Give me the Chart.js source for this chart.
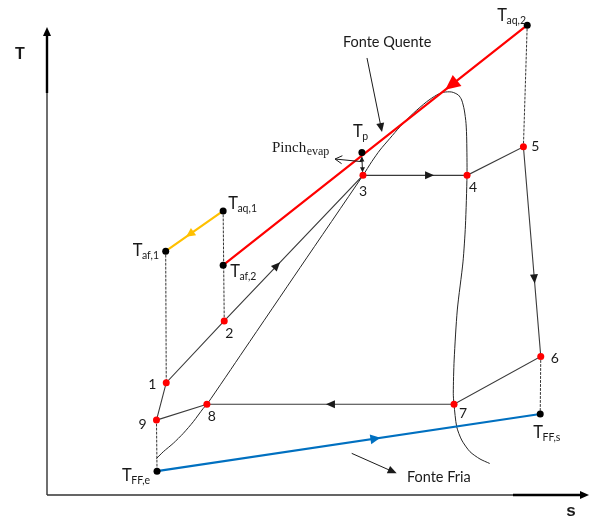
<!DOCTYPE html>
<html>
<head>
<meta charset="utf-8">
<script src="https://cdn.jsdelivr.net/npm/chart.js@4.4.1/dist/chart.umd.min.js"></script>
<style>
  html, body { margin: 0; padding: 0; background: #fff; }
  canvas { display: block; }
</style>
</head>
<body>
<canvas id="ts" width="595" height="521"></canvas>
<script>
// T-s diagram, values (s and T in arbitrary 0..100 units).
const stateNames = ['1', '2', '3', '4', '5', '6', '7', '8', '9'];
const stateS = [22.0, 32.7, 58.3, 77.5, 87.9, 91.1, 75.1, 29.5, 20.2];
const stateT = [24.0, 37.2, 68.3, 68.3, 74.4, 29.6, 19.4, 19.4, 16.0];
const cycleOrder = ['9', '1', '2', '3', '4', '5', '6', '7', '8', '9'];

// stream end points (hot source, hot source after preheat, cold source, pinch)
const streamNames = ['aq,2', 'af,2', 'aq,1', 'af,1', 'FF,e', 'FF,s', 'p'];
const streamS = [88.6, 32.5, 32.5, 21.9, 20.3, 91.0, 58.1];
const streamT = [100.4, 49.1, 60.7, 52.1, 5.1, 17.3, 73.2];

// saturation dome, left branch bottom -> top -> right branch bottom
const domeS = [20.24, 21.46, 23.30, 25.15, 26.99, 28.84, 29.52, 36.35, 46.70, 58.30, 59.91, 61.44, 63.28, 65.13, 67.58, 70.06, 71.90, 73.12, 74.67, 75.89, 76.51, 76.99, 77.31, 77.44, 77.49, 77.20, 76.75, 75.70, 75.12, 74.96, 75.09, 75.59, 76.51, 78.04, 79.89, 81.61];
const domeT = [7.84, 9.25, 11.05, 13.18, 15.66, 18.53, 19.38, 30.98, 48.60, 68.30, 71.22, 73.72, 76.22, 78.70, 81.56, 84.04, 85.47, 86.05, 86.11, 85.47, 84.40, 82.26, 79.42, 75.85, 68.30, 57.50, 49.80, 39.53, 28.85, 21.73, 19.38, 14.59, 11.75, 9.25, 7.69, 6.77];

// vertical dotted guides between points
const dropPairs = [['aq,2', '5'], ['aq,1', '2'], ['af,1', '1'], ['6', 'FF,s'], ['9', 'FF,e']];

// annotation arrows: Fonte Quente, Fonte Fria, pinch
const noteS = [[59.04, 61.81], [56.22, 64.52], [58.17, 53.14]];
const noteT = [[93.38, 77.56], [8.90, 4.63], [71.22, 71.79]];
const noteTexts = ['Fonte Quente', 'Fonte Fria'];
const noteTextS = [54.6, 66.4];
const noteTextT = [95.7, 2.8];

const RED = '#ff0000';
const GOLD = '#ffc000';
const BLUE = '#0070c0';
const LINE = '#3a3a3a';
const INK = '#1a1a1a';
const SANS = 'Lato, "Open Sans", sans-serif';

function ptOf(name) {
    let i = stateNames.indexOf(name);
    if (i >= 0) {
        return { x: stateS[i], y: stateT[i] };
    }
    i = streamNames.indexOf(name);
    return { x: streamS[i], y: streamT[i] };
}

function toPx(chart, p) {
    return { x: chart.scales.x.getPixelForValue(p.x), y: chart.scales.y.getPixelForValue(p.y) };
}

function head(ctx, x, y, ang, len, half, color, open) {
    const c = Math.cos(ang), s = Math.sin(ang);
    const bx = x - len * c, by = y - len * s;
    ctx.beginPath();
    if (open) {
        ctx.moveTo(bx - half * s, by + half * c);
        ctx.lineTo(x, y);
        ctx.lineTo(bx + half * s, by - half * c);
        ctx.strokeStyle = color;
        ctx.lineWidth = 1;
        ctx.stroke();
        return;
    }
    ctx.moveTo(x, y);
    ctx.lineTo(bx - half * s, by + half * c);
    ctx.lineTo(bx + half * s, by - half * c);
    ctx.closePath();
    ctx.fillStyle = color;
    ctx.fill();
}

// flow arrows placed at a fraction along a segment
const flowArrows = [
    { from: 'aq,2', to: 'af,2', at: 0.25, color: RED, len: 15, half: 7 },
    { from: 'aq,1', to: 'af,1', at: 0.58, color: GOLD, len: 9, half: 4.5 },
    { from: '2', to: '3', at: 0.38, color: INK, len: 9, half: 4 },
    { from: '3', to: '4', at: 0.64, color: INK, len: 9, half: 4 },
    { from: '5', to: '6', at: 0.63, color: INK, len: 9, half: 4 },
    { from: '7', to: '8', at: 0.50, color: INK, len: 9, half: 4 },
    { from: 'FF,e', to: 'FF,s', at: 0.57, color: BLUE, len: 10, half: 5 },
];

// label placement, pixel offsets from the anchor point
const stateLabelOffsets = { 1: [-14, 6.5], 2: [5, 17], 3: [0, 21], 4: [6, 17], 5: [12, 4], 6: [14, 6.5], 7: [9, 14], 8: [5, 17], 9: [-14, 9] };
const streamLabelOffsets = { 'aq,2': [-30, -4.5], 'aq,1': [5, -1.5], 'af,1': [-33, 5], 'af,2': [7, 12], 'FF,e': [-35, 9.5], 'FF,s': [-7, 24], 'p': [-9, -15] };

const overlay = {
    id: 'tsOverlay',
    beforeDatasetsDraw(chart) {
        const { ctx, chartArea: a } = chart;
        ctx.save();
        ctx.lineCap = 'butt';
        ctx.strokeStyle = '#333';
        ctx.lineWidth = 1.4;
        ctx.beginPath();
        ctx.moveTo(a.left, a.bottom);
        ctx.lineTo(a.left, a.top + 6);
        ctx.moveTo(a.left, a.bottom);
        ctx.lineTo(a.right - 6, a.bottom);
        ctx.stroke();
        ctx.strokeStyle = '#000';
        ctx.lineWidth = 2.4;
        ctx.beginPath();
        ctx.moveTo(a.left, a.top + 66);
        ctx.lineTo(a.left, a.top + 6);
        ctx.moveTo(a.right - 76, a.bottom);
        ctx.lineTo(a.right - 6, a.bottom);
        ctx.stroke();
        head(ctx, a.left, a.top, -Math.PI / 2, 9, 4, '#000');
        head(ctx, a.right, a.bottom, 0, 9, 4, '#000');

        ctx.fillStyle = INK;
        ctx.textAlign = 'center';
        ctx.textBaseline = 'alphabetic';
        ctx.font = 'bold 16px "Liberation Sans", Arial, sans-serif';
        ctx.fillText('T', 20, 59);
        ctx.font = 'bold 17px "Liberation Sans", Arial, sans-serif';
        ctx.fillText('s', a.right - 18, a.bottom + 21);
        ctx.restore();
    },
    afterDatasetsDraw(chart) {
        const { ctx } = chart;
        ctx.save();

        flowArrows.forEach((f) => {
            const p = toPx(chart, ptOf(f.from));
            const q = toPx(chart, ptOf(f.to));
            const ang = Math.atan2(q.y - p.y, q.x - p.x);
            const x = p.x + (q.x - p.x) * f.at + Math.cos(ang) * f.len / 2;
            const y = p.y + (q.y - p.y) * f.at + Math.sin(ang) * f.len / 2;
            head(ctx, x, y, ang, f.len, f.half, f.color);
        });

        // annotation arrows
        noteS.forEach((ss, i) => {
            const p = toPx(chart, { x: ss[0], y: noteT[i][0] });
            const q = toPx(chart, { x: ss[1], y: noteT[i][1] });
            const ang = Math.atan2(q.y - p.y, q.x - p.x);
            const open = i === 2;
            ctx.strokeStyle = INK;
            ctx.lineWidth = 1;
            ctx.beginPath();
            ctx.moveTo(p.x, p.y);
            ctx.lineTo(q.x - (open ? 0 : Math.cos(ang) * 6), q.y - (open ? 0 : Math.sin(ang) * 6));
            ctx.stroke();
            head(ctx, q.x, q.y, ang, open ? 7 : 9, 4, INK, open);
        });

        // pinch double arrow between Tp and point 3
        const tp = toPx(chart, ptOf('p'));
        const p3 = toPx(chart, ptOf('3'));
        ctx.strokeStyle = INK;
        ctx.lineWidth = 1;
        ctx.beginPath();
        ctx.moveTo(tp.x, tp.y + 5);
        ctx.lineTo(p3.x - 0.5, p3.y - 4);
        ctx.stroke();
        head(ctx, tp.x, tp.y + 4, -Math.PI / 2, 5, 2.5, INK);
        head(ctx, p3.x - 0.5, p3.y - 3, Math.PI / 2, 5, 2.5, INK);

        // state numbers
        ctx.fillStyle = INK;
        ctx.textAlign = 'center';
        ctx.textBaseline = 'alphabetic';
        ctx.font = `14px ${SANS}`;
        stateNames.forEach((n) => {
            const p = toPx(chart, ptOf(n));
            const o = stateLabelOffsets[n];
            ctx.fillText(n, p.x + o[0], p.y + o[1]);
        });

        // T labels with subscripts
        ctx.textAlign = 'left';
        streamNames.forEach((n) => {
            const p = toPx(chart, ptOf(n));
            const o = streamLabelOffsets[n];
            const x = p.x + o[0], y = p.y + o[1];
            ctx.font = `16.5px ${SANS}`;
            ctx.fillText('T', x, y);
            const w = ctx.measureText('T').width;
            ctx.font = `10.5px ${SANS}`;
            ctx.fillText(n, x + w - 0.5, y + 3);
        });

        // Pinch_evap (serif, next to its arrow)
        const pin = toPx(chart, { x: noteS[2][1], y: noteT[2][1] });
        ctx.font = '15px "Liberation Serif", serif';
        ctx.fillText('Pinch', pin.x - 63, pin.y - 7);
        const pw = ctx.measureText('Pinch').width;
        ctx.font = '12px "Liberation Serif", serif';
        ctx.fillText('evap', pin.x - 63 + pw + 0.5, pin.y - 4);

        // source names
        ctx.font = `14.5px ${SANS}`;
        noteTexts.forEach((t, i) => {
            const p = toPx(chart, { x: noteTextS[i], y: noteTextT[i] });
            ctx.fillText(t, p.x, p.y);
        });
        ctx.restore();
    },
};

const line = (data, color, width, order, extra) => Object.assign({
    data, showLine: true, borderColor: color, borderWidth: width, pointRadius: 0, order, clip: false,
}, extra || {});

new Chart(document.getElementById('ts'), {
    type: 'scatter',
    data: {
        datasets: [
            {
                data: stateNames.map(ptOf), pointRadius: 3.5, pointBackgroundColor: RED, pointBorderWidth: 0, order: 0, clip: false,
            },
            {
                data: streamNames.map(ptOf), pointRadius: 3.5, pointBackgroundColor: '#000', pointBorderWidth: 0, order: 0, clip: false,
            },
            line(['aq,2', 'af,2'].map(ptOf), RED, 2.2, 1),
            line(['aq,1', 'af,1'].map(ptOf), GOLD, 2.2, 1),
            line(['FF,e', 'FF,s'].map(ptOf), BLUE, 2.2, 1),
            line(domeS.map((s, i) => ({ x: s, y: domeT[i] })), '#262626', 1, 3, { tension: 0.25 }),
            line(cycleOrder.map(ptOf), LINE, 1.1, 4),
            ...dropPairs.map((d) => line(d.map(ptOf), '#333', 1, 5, { borderDash: [2, 2] })),
        ],
    },
    options: {
        responsive: false,
        animation: false,
        devicePixelRatio: 1,
        layout: { padding: { left: 47, right: 6, top: 27, bottom: 26 } },
        scales: {
            x: { type: 'linear', min: 0, max: 100, display: false },
            y: { type: 'linear', min: 0, max: 100, display: false },
        },
        plugins: { legend: { display: false }, tooltip: { enabled: false } },
        elements: { line: { borderCapStyle: 'round' } },
    },
    plugins: [overlay],
});
</script>
</body>
</html>
